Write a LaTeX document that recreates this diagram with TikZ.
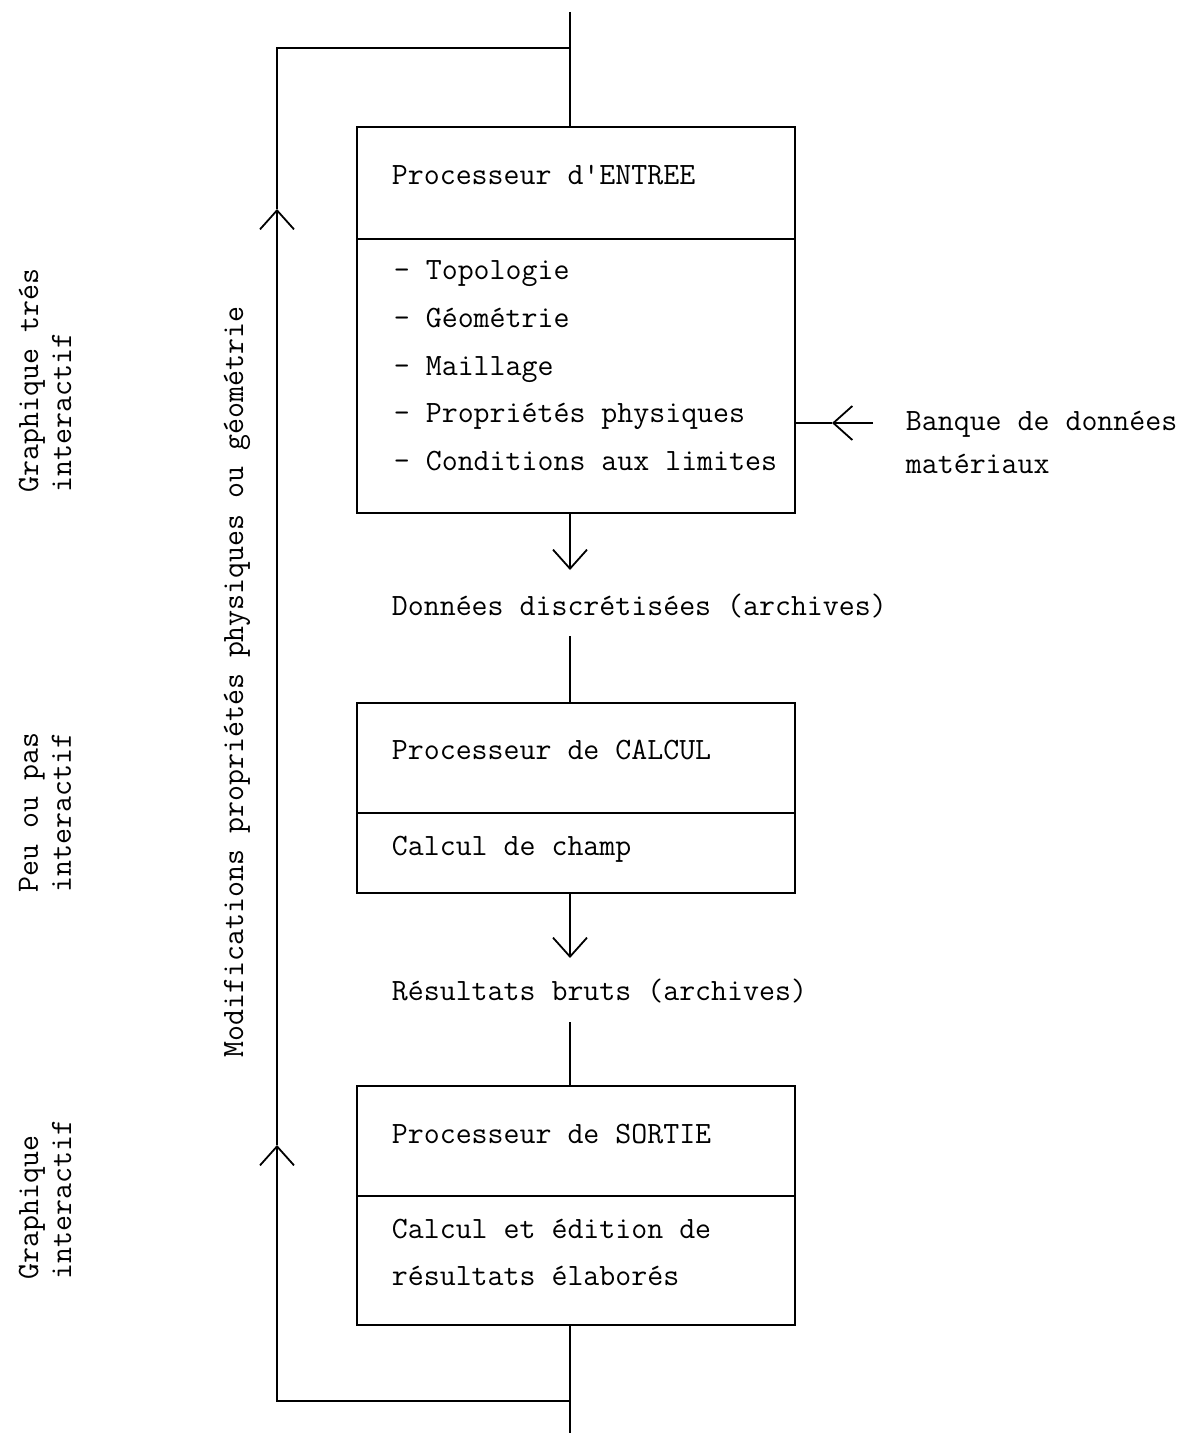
\documentclass[tikz,border=0pt]{standalone}
\usetikzlibrary{arrows.meta}

\tikzset{
  procbox/.style={draw, minimum width=219pt, inner sep=0pt},
  txt/.style={anchor=base west, inner sep=0pt, font=\ttfamily\fontsize{15.5}{16.5}\selectfont},
  sidelbl/.style={txt, rotate=90, anchor=west, align=left},
  barb/.style={-{Straight Barb[length=9.5pt,width=17pt]}}
}

\begin{document}
\begin{tikzpicture}[x=0.5pt, y=-0.5pt, line width=0.9pt, line join=miter]
    \useasboundingbox (0,0) rectangle (1184,1433);

    % boxes
    \node (entree) at (576,320) [procbox, minimum height=193pt] {};
    \node (calcul) at (576,798) [procbox, minimum height=95pt] {};
    \node (sortie) at (576,1205.5) [procbox, minimum height=119.5pt] {};

    \draw (entree.west |- 0,239) -- (entree.east |- 0,239);
    \draw (calcul.west |- 0,813) -- (calcul.east |- 0,813);
    \draw (sortie.west |- 0,1196) -- (sortie.east |- 0,1196);

    % texts in the boxes
    \node (tentree) at (391,185) [txt] {Processeur d\textquotesingle ENTREE};
    \node (l1) at (393,280) [txt] {- Topologie};
    \node (l2) at (393,327.5) [txt] {- Géométrie};
    \node (l3) at (393,375) [txt] {- Maillage};
    \node (l4) at (393,422.5) [txt] {- Propriétés physiques};
    \node (l5) at (393,470) [txt] {- Conditions aux limites};

    \node (tcalcul) at (391,759) [txt] {Processeur de CALCUL};
    \node (champ) at (391,855) [txt] {Calcul de champ};

    \node (tsortie) at (391,1143) [txt] {Processeur de SORTIE};
    \node (ed1) at (391,1238) [txt] {Calcul et édition de};
    \node (ed2) at (391,1285) [txt] {résultats élaborés};

    \node (donnees) at (391,615) [txt] {Données discrétisées (archives)};
    \node (resultats) at (391,1000) [txt] {Résultats bruts (archives)};

    \node (banque) at (905,430) [txt] {Banque de données};
    \node (mat) at (905,473) [txt] {matériaux};

    % side labels
    \node (gti) at (45,493) [sidelbl] {Graphique trés\\interactif};
    \node (pop) at (45,893) [sidelbl] {Peu ou pas\\interactif};
    \node (gi) at (45,1280) [sidelbl] {Graphique\\interactif};
    \node (modif) at (237,1058) [sidelbl] {Modifications propriétés physiques ou géométrie};

    % spine
    \coordinate (top) at (570,12);
    \coordinate (bot) at (570,1433);
    \coordinate (jt) at (570,48);
    \coordinate (jb) at (570,1401);
    \coordinate (ul) at (277,48);
    \coordinate (ll) at (277,1401);
    \coordinate (up1) at (277,209);
    \coordinate (up2) at (277,1145);
    \coordinate (dn1) at (570,570);
    \coordinate (dn2) at (570,958);
    \coordinate (c1) at (570,636);
    \coordinate (c2) at (570,1022);
    \coordinate (s0) at (873,423);
    \coordinate (s1) at (832,423);

    \draw (top) -- (entree.north -| top);
    \draw[barb] (entree.south -| top) -- (dn1);
    \draw (c1) -- (calcul.north -| c1);
    \draw[barb] (calcul.south -| top) -- (dn2);
    \draw (c2) -- (sortie.north -| c2);
    \draw (sortie.south -| bot) -- (bot);

    % feedback loop
    \draw[barb] (jb) -- (ll) -- (up2);
    \draw[barb] (up2) -- (up1);
    \draw (up1) -- (ul) -- (jt);

    % materials bank
    \draw[barb] (s0) -- (s1);
    \draw (s1) -- (entree.east |- s1);

\end{tikzpicture}
\end{document}
